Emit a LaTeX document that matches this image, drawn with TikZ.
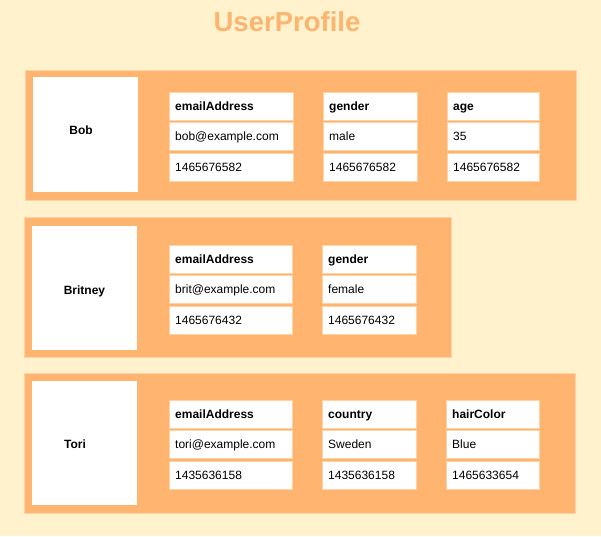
\documentclass[tikz,border=0pt]{standalone}
\usepackage{fontspec}
\setmainfont{Liberation Sans}
\definecolor{bg}{HTML}{FFF2CC}
\definecolor{org}{HTML}{FFB570}
\definecolor{edgec}{HTML}{FFD3A6}
\newcommand\fcol[7]{%
  \path[cell] (#2,#4) rectangle (#3,#4+28);
  \node[hdr] (#1h) at (#2+6,#4+18.3) {#5};
  \path[cell] (#2,#4+30.5) rectangle (#3,#4+58.5);
  \node[txt] (#1v) at (#2+6,#4+48.8) {#6};
  \path[cell] (#2,#4+61) rectangle (#3,#4+89);
  \node[txt] (#1t) at (#2+6,#4+79.3) {#7};
}
\begin{document}
\begin{tikzpicture}[x=1pt,y=-1pt,
  panel/.style={fill=org,draw=edgec,line width=1pt},
  namebox/.style={fill=white},
  cell/.style={fill=white,draw=edgec,line width=1pt},
  txt/.style={anchor=base west,inner sep=0pt,font=\fontsize{12}{14}\selectfont},
  hdr/.style={anchor=base west,inner sep=0pt,font=\fontsize{12}{14}\selectfont\bfseries},
  namelbl/.style={anchor=base,inner sep=0pt,font=\fontsize{12}{14}\selectfont\bfseries}]
\useasboundingbox (0,0) rectangle (601,536);
\fill[bg] (0,0) rectangle (601,536);
\node[anchor=base,inner sep=0pt,text=org,font=\fontsize{27.5}{30}\selectfont\bfseries] (title) at (287,31) {UserProfile};
% Bob
\path[panel] (25,70) rectangle (576,200);
\path[namebox] (33,77) rectangle (138,192);
\node[namelbl] (bob) at (81,134.3) {Bob};
\fcol{ba}{169}{293}{92}{emailAddress}{bob@example.com}{1465676582}
\fcol{bb}{323}{417}{92}{gender}{male}{1465676582}
\fcol{bc}{447}{539}{92}{age}{35}{1465676582}
% Britney
\path[panel] (24,217) rectangle (451,357);
\path[namebox] (32,226) rectangle (137,350);
\node[namelbl] (britney) at (84.5,294.3) {Britney};
\fcol{ra}{169}{292}{245}{emailAddress}{brit@example.com}{1465676432}
\fcol{rb}{322}{416}{245}{gender}{female}{1465676432}
% Tori
\path[panel] (24,373) rectangle (575,513);
\path[namebox] (32,381) rectangle (137,505);
\node[namelbl] (tori) at (75,448.3) {Tori};
\fcol{ta}{169}{292}{400}{emailAddress}{tori@example.com}{1435636158}
\fcol{tb}{322}{416}{400}{country}{Sweden}{1435636158}
\fcol{tc}{446}{539}{400}{hairColor}{Blue}{1465633654}
\end{tikzpicture}
\end{document}
